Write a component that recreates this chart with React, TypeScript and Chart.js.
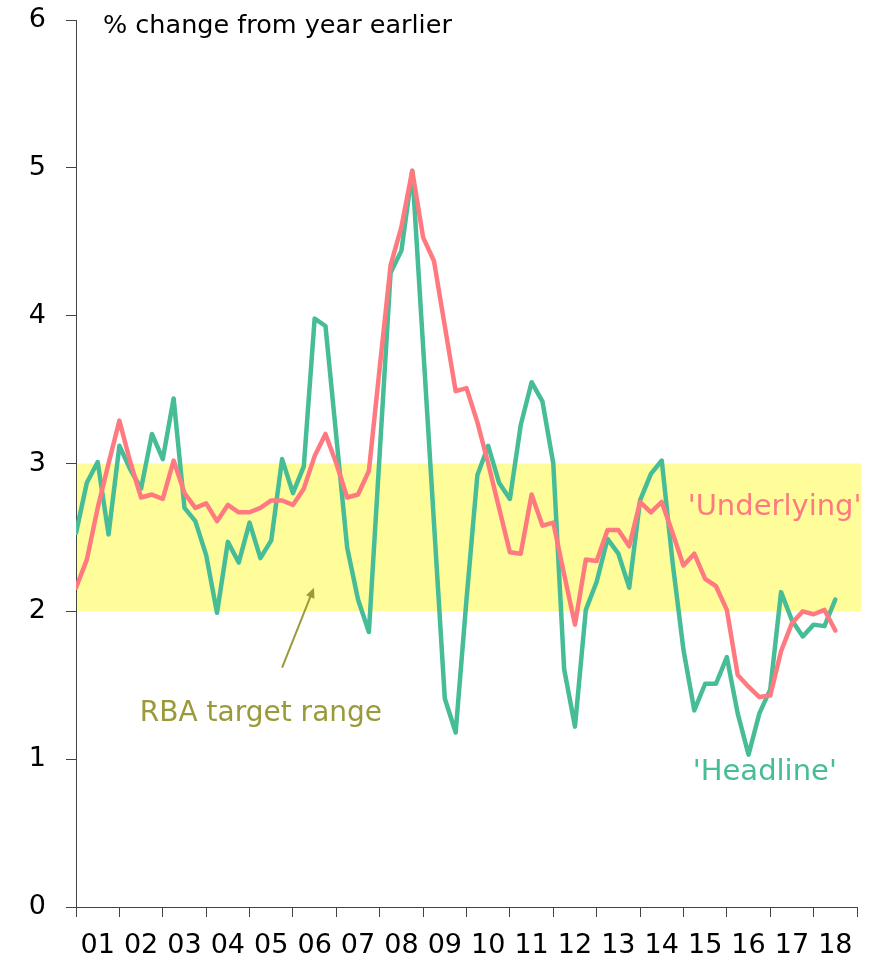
import React, { useEffect, useRef } from 'react';
import { Chart, registerables } from 'chart.js';

Chart.register(...registerables);

const yearLabels = ['01', '02', '03', '04', '05', '06', '07', '08', '09', '10', '11', '12', '13', '14', '15', '16', '17', '18'];

const headline = [
  2.53, 2.87, 3.01, 2.52, 3.12, 2.96, 2.83, 3.20, 3.03, 3.44,
  2.70, 2.61, 2.38, 1.99, 2.47, 2.33, 2.60, 2.36, 2.48, 3.03,
  2.80, 2.98, 3.98, 3.93, 3.18, 2.43, 2.08, 1.86, 3.07, 4.29,
  4.44, 4.98, 3.79, 2.60, 1.41, 1.18, 2.08, 2.92, 3.12, 2.87,
  2.76, 3.26, 3.55, 3.42, 3.00, 1.61, 1.22, 2.01, 2.20, 2.49,
  2.39, 2.16, 2.75, 2.93, 3.02, 2.33, 1.74, 1.33, 1.51, 1.51,
  1.69, 1.31, 1.03, 1.31, 1.47, 2.13, 1.94, 1.83, 1.91, 1.90,
  2.08,
];

const underlying = [
  2.16, 2.35, 2.70, 3.00, 3.29, 3.01, 2.77, 2.79, 2.76, 3.02,
  2.80, 2.70, 2.73, 2.61, 2.72, 2.67, 2.67, 2.70, 2.75, 2.75,
  2.72, 2.83, 3.05, 3.20, 3.00, 2.77, 2.79, 2.95, 3.65, 4.34,
  4.60, 4.98, 4.53, 4.37, 3.93, 3.49, 3.51, 3.28, 3.00, 2.70,
  2.40, 2.39, 2.79, 2.58, 2.60, 2.25, 1.91, 2.35, 2.34, 2.55,
  2.55, 2.44, 2.74, 2.67, 2.74, 2.53, 2.31, 2.39, 2.22, 2.17,
  2.01, 1.57, 1.49, 1.42, 1.43, 1.73, 1.92, 2.00, 1.98, 2.01,
  1.87,
];

const targetRange = [2, 3];
const yTicks = [0, 1, 2, 3, 4, 5, 6];

const FONT = '"DejaVu Sans", sans-serif';
const TEAL = '#46BC97';
const RED = '#FF7A80';
const YELLOW = '#FEFD99';
const OLIVE = '#9A9A3A';

const overlayPlugin = {
  id: 'overlay',
  beforeDatasetsDraw(chart: any) {
    const { ctx, chartArea, scales } = chart;
    const y = scales.y;
    const top = y.getPixelForValue(targetRange[1]);
    const bot = y.getPixelForValue(targetRange[0]);
    ctx.save();
    ctx.fillStyle = YELLOW;
    ctx.fillRect(chartArea.left + 1, top, chartArea.right - chartArea.left + 3, bot - top);
    ctx.restore();
  },
  afterDatasetsDraw(chart: any) {
    const { ctx, scales } = chart;
    const x = scales.x;
    const y = scales.y;
    ctx.save();
    ctx.textBaseline = 'middle';
    // title
    ctx.fillStyle = '#000';
    ctx.font = `25.5px ${FONT}`;
    ctx.textAlign = 'left';
    ctx.fillText('% change from year earlier', 103, 26);
    // labels
    ctx.textAlign = 'center';
    ctx.font = `29px ${FONT}`;
    ctx.fillStyle = RED;
    ctx.fillText("'Underlying'", x.getPixelForValue(64.4), y.getPixelForValue(2.7));
    ctx.fillStyle = TEAL;
    ctx.fillText("'Headline'", x.getPixelForValue(63.5), y.getPixelForValue(0.91));
    ctx.font = `28px ${FONT}`;
    ctx.fillStyle = OLIVE;
    ctx.fillText('RBA target range', x.getPixelForValue(17.05), y.getPixelForValue(1.31));
    // arrow
    const x0 = x.getPixelForValue(19.0), y0 = y.getPixelForValue(1.62);
    const x1 = x.getPixelForValue(21.94), y1 = y.getPixelForValue(2.16);
    ctx.strokeStyle = OLIVE;
    ctx.fillStyle = OLIVE;
    ctx.lineWidth = 2;
    const ang = Math.atan2(y1 - y0, x1 - x0);
    const hl = 10;
    ctx.beginPath();
    ctx.moveTo(x0, y0);
    ctx.lineTo(x1 - Math.cos(ang) * hl * 0.8, y1 - Math.sin(ang) * hl * 0.8);
    ctx.stroke();
    ctx.beginPath();
    ctx.moveTo(x1, y1);
    ctx.lineTo(x1 - hl * Math.cos(ang) + 4.5 * Math.sin(ang), y1 - hl * Math.sin(ang) - 4.5 * Math.cos(ang));
    ctx.lineTo(x1 - hl * Math.cos(ang) - 4.5 * Math.sin(ang), y1 - hl * Math.sin(ang) + 4.5 * Math.cos(ang));
    ctx.closePath();
    ctx.fill();
    ctx.restore();
  },
};

export default function App() {
  const ref = useRef<HTMLCanvasElement>(null);

  useEffect(() => {
    if (!ref.current) return;
    const toPts = (arr: number[]) => arr.map((v, i) => ({ x: i, y: v }));
    const chart = new Chart(ref.current, {
      type: 'line',
      data: {
        datasets: [
          {
            label: "'Underlying'",
            data: toPts(underlying),
            borderColor: RED,
            borderWidth: 4.5,
            pointRadius: 0,
            tension: 0,
            order: 0,
            borderJoinStyle: 'round',
            borderCapStyle: 'round',
          },
          {
            label: "'Headline'",
            data: toPts(headline),
            borderColor: TEAL,
            borderWidth: 4.5,
            pointRadius: 0,
            tension: 0,
            order: 1,
            borderJoinStyle: 'round',
            borderCapStyle: 'round',
          },
        ],
      },
      options: {
        responsive: false,
        animation: false,
        layout: { padding: { top: 20, right: 29, left: 0, bottom: 0 } },
        plugins: { legend: { display: false }, tooltip: { enabled: false }, title: { display: false } },
        scales: {
          x: {
            type: 'linear',
            min: 0,
            max: yearLabels.length * 4,
            afterFit: (s: any) => {
              s.height = 55;
              s.paddingLeft = 0;
              s.paddingRight = 0;
            },
            afterBuildTicks: (s: any) => {
              const t = [];
              for (let v = 0; v <= yearLabels.length * 4; v += 2) t.push({ value: v });
              s.ticks = t;
            },
            ticks: {
              autoSkip: false,
              maxRotation: 0,
              minRotation: 0,
              padding: 13,
              color: '#000',
              font: { family: FONT, size: 27 },
              callback: (value: any) => {
                const v = Number(value);
                if (v % 4 === 2) return yearLabels[(v - 2) / 4];
                return '';
              },
            },
            grid: {
              drawOnChartArea: false,
              drawTicks: true,
              tickLength: 10,
              tickColor: (c: any) => (c.tick && c.tick.value % 4 === 0 ? '#444' : 'rgba(0,0,0,0)'),
              lineWidth: 1,
            },
            border: { display: true, color: '#444', width: 1 },
          },
          y: {
            min: 0,
            max: 6,
            afterFit: (s: any) => {
              s.width = 76;
              s.paddingTop = 0;
              s.paddingBottom = 0;
            },
            afterBuildTicks: (s: any) => { s.ticks = yTicks.map((v) => ({ value: v })); },
            ticks: {
              padding: 20,
              color: '#000',
              font: { family: FONT, size: 27 },
            },
            grid: {
              drawOnChartArea: false,
              drawTicks: true,
              tickLength: 10,
              tickColor: '#444',
            },
            border: { display: true, color: '#444', width: 1 },
          },
        },
      },
      plugins: [overlayPlugin],
    });
    return () => chart.destroy();
  }, []);

  return (
    <canvas
      ref={ref}
      width={886}
      height={962}
      style={{ position: 'fixed', left: 0, top: 0, display: 'block' }}
    />
  );
}
